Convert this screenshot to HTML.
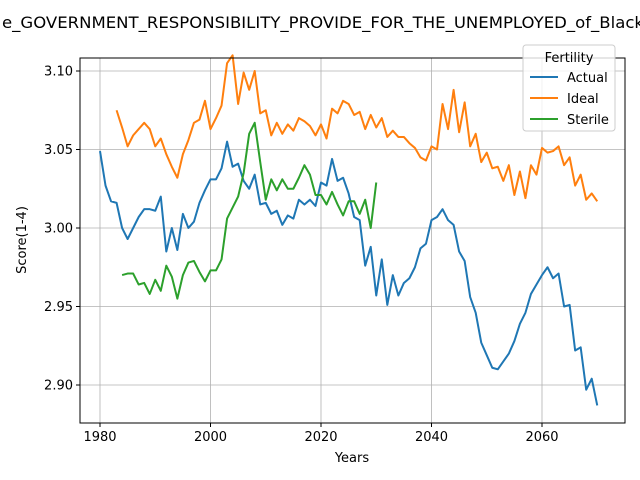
<!DOCTYPE html>
<html><head><meta charset="utf-8"><style>
body{margin:0;background:#fff}
svg{display:block;font-family:"DejaVu Sans","Liberation Sans",sans-serif}
</style></head><body>
<svg id="chart" width="640" height="480" viewBox="0 0 640 480">
<text x="2" y="28" font-size="16" textLength="642" lengthAdjust="spacingAndGlyphs">e_GOVERNMENT_RESPONSIBILITY_PROVIDE_FOR_THE_UNEMPLOYED_of_Black</text>
<g id="grid"></g>
<g id="series"></g>
<rect x="80" y="58" width="545" height="365" fill="none" stroke="#000" stroke-width="1"/>
<g id="ticks"></g>
<text x="352" y="462" font-size="13" text-anchor="middle">Years</text>
<text transform="translate(26,240) rotate(-90)" font-size="13" text-anchor="middle">Score(1-4)</text>
<g>
<rect x="523" y="45" width="92" height="86" rx="3" fill="#fff" fill-opacity="0.8" stroke="#ccc"/>
<text x="569" y="62" font-size="13" text-anchor="middle">Fertility</text>
<g><line x1="530" y1="77" x2="558" y2="77" stroke="#1f77b4" stroke-width="2"/><text x="567" y="82" font-size="13">Actual</text></g>
<g><line x1="530" y1="98" x2="558" y2="98" stroke="#ff7f0e" stroke-width="2"/><text x="567" y="103" font-size="13">Ideal</text></g>
<g><line x1="530" y1="119" x2="558" y2="119" stroke="#2ca02c" stroke-width="2"/><text x="567" y="124" font-size="13">Sterile</text></g>
</g>
</svg>
<script>
const actualStart = 1980;
const actualValues = [3.049,3.027,3.017,3.016,3.000,2.993,3.000,3.007,3.012,3.012,3.011,3.020,2.985,3.000,2.986,3.009,3.000,3.004,3.016,3.024,3.031,3.031,3.038,3.055,3.039,3.041,3.030,3.025,3.034,3.015,3.016,3.009,3.011,3.002,3.008,3.006,3.018,3.015,3.018,3.014,3.029,3.027,3.044,3.030,3.032,3.022,3.007,3.005,2.976,2.988,2.957,2.980,2.951,2.970,2.957,2.965,2.968,2.975,2.987,2.990,3.005,3.007,3.012,3.005,3.002,2.985,2.979,2.956,2.946,2.927,2.919,2.911,2.910,2.915,2.920,2.928,2.939,2.946,2.958,2.964,2.970,2.975,2.968,2.971,2.950,2.951,2.922,2.924,2.897,2.904,2.887];
const idealStart = 1983;
const idealValues = [3.075,3.064,3.052,3.059,3.063,3.067,3.063,3.052,3.057,3.047,3.039,3.032,3.047,3.056,3.067,3.069,3.081,3.063,3.070,3.078,3.105,3.110,3.079,3.099,3.088,3.100,3.073,3.075,3.059,3.067,3.060,3.066,3.062,3.070,3.068,3.065,3.059,3.066,3.057,3.076,3.073,3.081,3.079,3.072,3.074,3.063,3.072,3.064,3.070,3.058,3.062,3.058,3.058,3.054,3.051,3.045,3.043,3.052,3.050,3.079,3.063,3.088,3.061,3.080,3.052,3.060,3.042,3.048,3.038,3.039,3.030,3.040,3.021,3.036,3.019,3.040,3.034,3.051,3.048,3.049,3.052,3.040,3.045,3.027,3.034,3.018,3.022,3.017];
const sterileStart = 1984;
const sterileValues = [2.970,2.971,2.971,2.964,2.965,2.958,2.967,2.960,2.976,2.969,2.955,2.970,2.978,2.979,2.972,2.966,2.973,2.973,2.980,3.006,3.013,3.020,3.035,3.060,3.067,3.042,3.018,3.031,3.024,3.031,3.025,3.025,3.032,3.040,3.034,3.021,3.021,3.015,3.023,3.015,3.008,3.017,3.017,3.009,3.018,3.000,3.029];
const xTicks = [1980,2000,2020,2040,2060];
const yTicks = [2.90,2.95,3.00,3.05,3.10];

const NS = "http://www.w3.org/2000/svg";
function xs(v){return 100 + (v-1980)*(542-100)/80;}
function ys(v){return 228 - (v-3.0)*(228-71)/0.1;}
const grid=document.getElementById('grid'), ticks=document.getElementById('ticks'), series=document.getElementById('series');
function mk(tag,attrs,parent){const e=document.createElementNS(NS,tag);for(const k in attrs)e.setAttribute(k,attrs[k]);parent.appendChild(e);return e;}
xTicks.forEach(t=>{
  const x=xs(t);
  const g=mk('line',{x1:x,y1:58,x2:x,y2:423,stroke:'#b0b0b0','stroke-width':0.8},grid);
  
  
  mk('line',{x1:x,y1:423,x2:x,y2:427,stroke:'#000'},ticks);
  const l=mk('text',{x:x,y:441,'font-size':13,'text-anchor':'middle'},ticks);
  l.textContent=t;
  
  
});
yTicks.forEach(t=>{
  const y=ys(t);
  const g=mk('line',{x1:80,y1:y,x2:625,y2:y,stroke:'#b0b0b0','stroke-width':0.8},grid);
  
  
  mk('line',{x1:76,y1:y,x2:80,y2:y,stroke:'#000'},ticks);
  const l=mk('text',{x:73,y:y+4.5,'font-size':13,'text-anchor':'end'},ticks);
  l.textContent=t.toFixed(2);
  
  
});
function draw(start,vals,color,name){
  const d=vals.map((v,i)=>(i?'L':'M')+xs(start+i).toFixed(2)+','+ys(v).toFixed(2)).join('');
  const p=mk('path',{d:d,fill:'none',stroke:color,'stroke-width':2,'stroke-linejoin':'round'},series);
  
  
}
draw(actualStart,actualValues,'#1f77b4','actual-line');
draw(idealStart,idealValues,'#ff7f0e','ideal-line');
draw(sterileStart,sterileValues,'#2ca02c','sterile-line');
</script>
</body></html>
